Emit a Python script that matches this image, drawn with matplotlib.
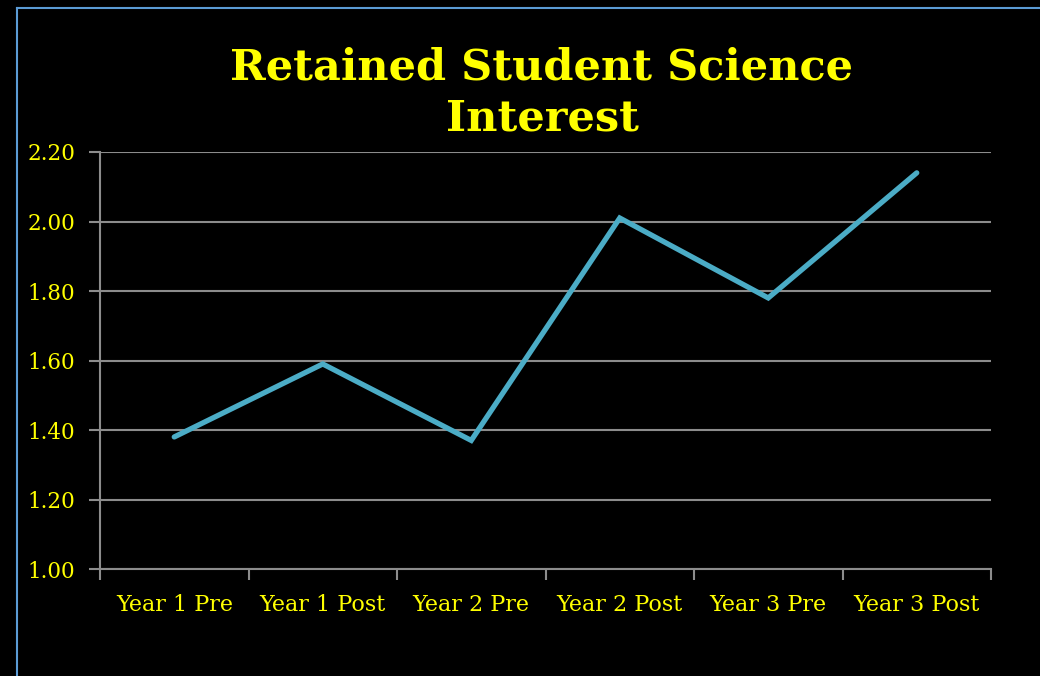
import matplotlib
matplotlib.use("Agg")
import matplotlib.pyplot as plt
from matplotlib.lines import Line2D
import numpy as np

categories = ["Year 1 Pre", "Year 1 Post", "Year 2 Pre", "Year 2 Post", "Year 3 Pre", "Year 3 Post"]
values = [1.38, 1.59, 1.37, 2.01, 1.78, 2.14]
yticks = [1.00, 1.20, 1.40, 1.60, 1.80, 2.00, 2.20]
title = "Retained Student Science\nInterest"

yellow = "#FFFF00"
grid_col = "#8C8C8C"
line_col = "#4BACC6"
serif = ["DejaVu Serif"]

fig = plt.figure(figsize=(10.4, 6.76), dpi=100, facecolor="black")
ax = fig.add_axes([100/1040, 1-569/676, (991-100)/1040, (569-152)/676])
ax.set_facecolor("black")

x = np.arange(len(categories))
ax.plot(x, values, color=line_col, lw=3.8, solid_capstyle="round", solid_joinstyle="miter", zorder=3)

ax.set_xlim(-0.5, len(categories) - 0.5)
ax.set_ylim(yticks[0], yticks[-1])
ax.set_yticks(yticks)
ax.set_yticklabels([f"{v:.2f}" for v in yticks], color=yellow, fontsize=15.5, family=serif)
ax.set_xticks(x)
ax.set_xticklabels(categories, color=yellow, fontsize=16, family=serif)
ax.set_xticks(np.arange(-0.5, len(categories)), minor=True)
ax.tick_params(axis="x", which="major", length=0, pad=18)
ax.tick_params(axis="x", which="minor", length=8, width=1.5, color=grid_col)
ax.tick_params(axis="y", length=8, width=1.5, color=grid_col, pad=10)

ax.grid(axis="y", color=grid_col, lw=1.5, zorder=1)
for s in ["top", "right"]:
    ax.spines[s].set_visible(False)
for s in ["left", "bottom"]:
    ax.spines[s].set_color(grid_col)
    ax.spines[s].set_linewidth(1.5)

fig.text(542/1040, 1-93/676, title, ha="center", va="center", color=yellow,
         fontsize=31, fontweight="bold", family=serif, linespacing=1.3)

# slide frame (left and top edges)
fig.add_artist(Line2D([16.5/1040, 16.5/1040], [0, 1-7.5/676], transform=fig.transFigure, color="#5B9BD5", lw=1.5))
fig.add_artist(Line2D([16.5/1040, 1], [1-7.5/676, 1-7.5/676], transform=fig.transFigure, color="#5B9BD5", lw=1.5))

fig.savefig("out.png", dpi=100, facecolor="black")
